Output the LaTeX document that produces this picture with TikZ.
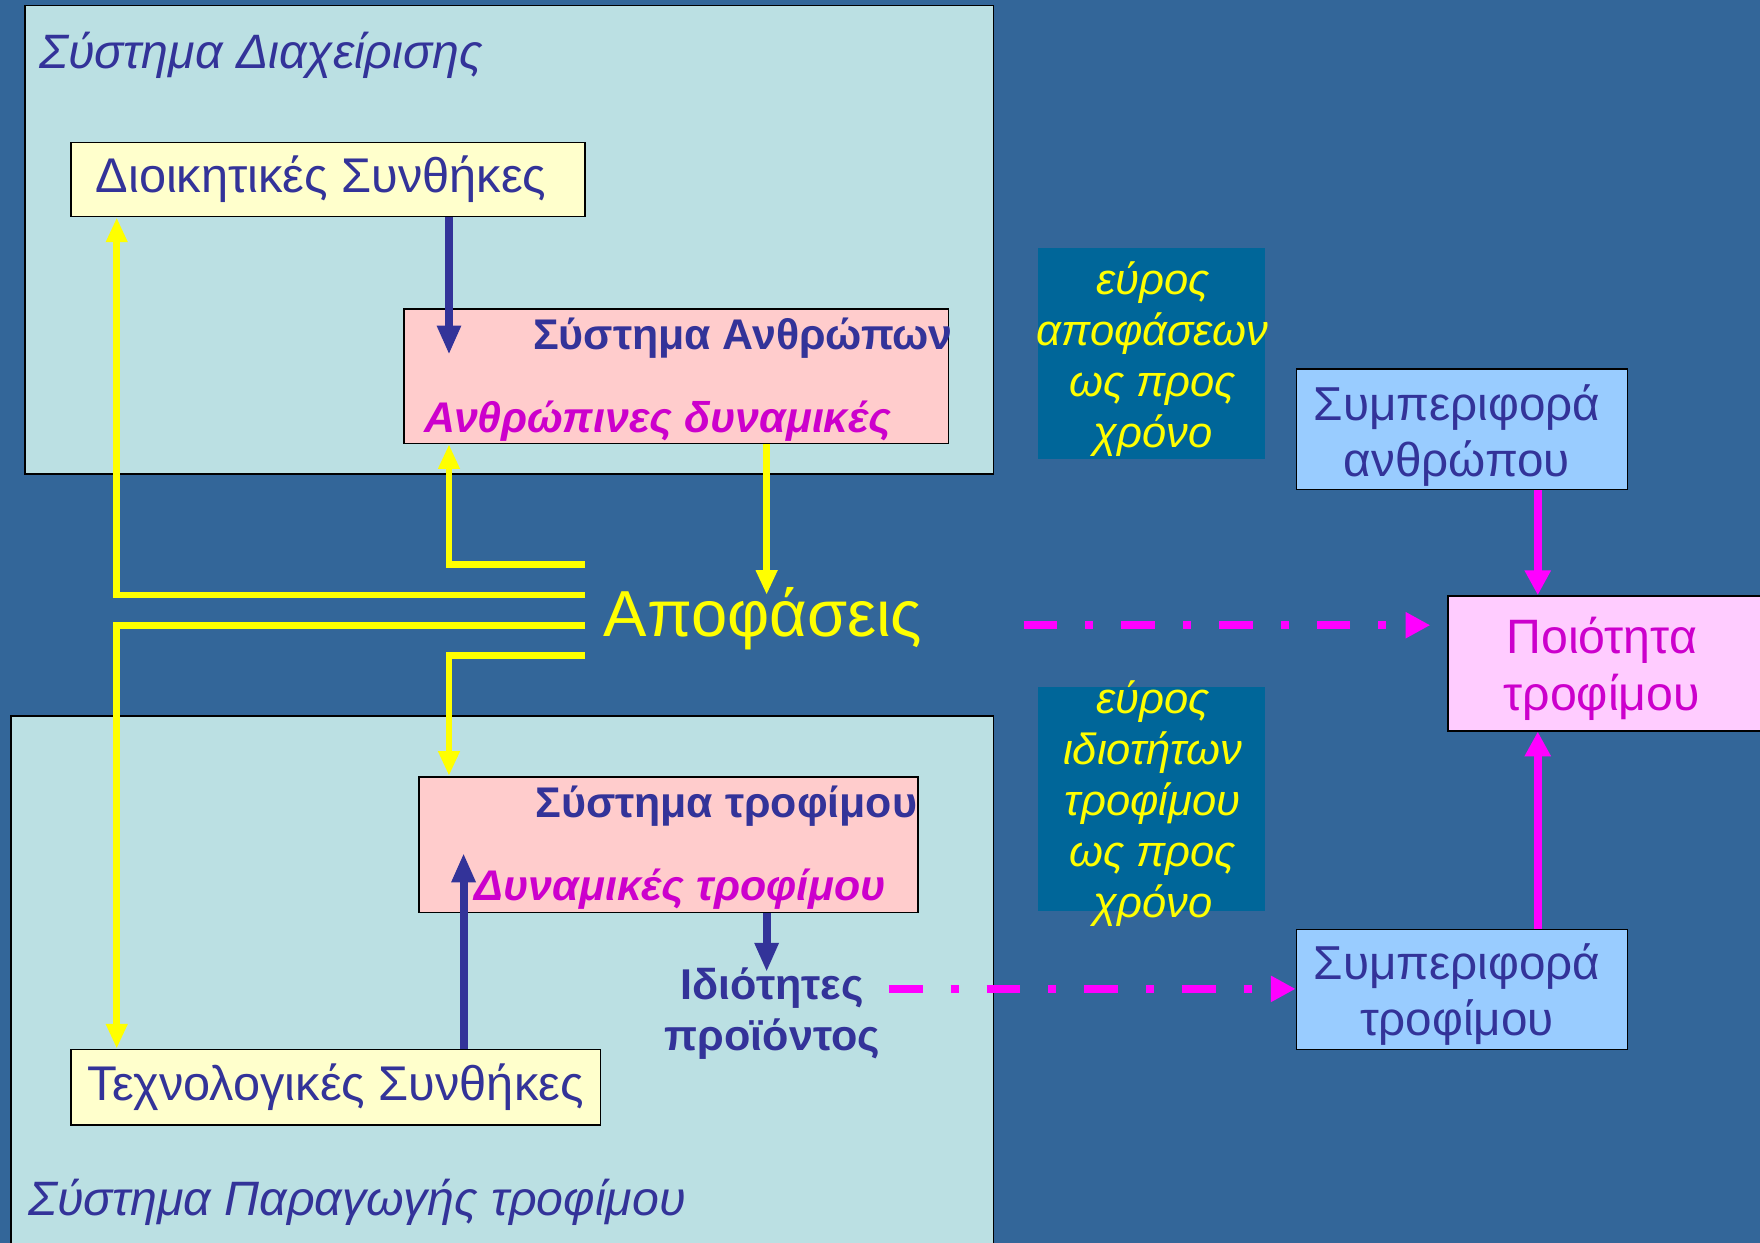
\documentclass[tikz,border=0pt]{standalone}
\usepackage{fontspec}
\setmainfont{Liberation Sans}
\usetikzlibrary{arrows.meta,fit,calc}
\definecolor{bgc}{RGB}{51,102,153}
\definecolor{contc}{RGB}{187,224,227}
\definecolor{dblue}{RGB}{51,51,153}
\definecolor{ylw}{RGB}{255,255,0}
\definecolor{lylw}{RGB}{255,255,204}
\definecolor{pinkc}{RGB}{255,204,204}
\definecolor{magt}{RGB}{204,0,204}
\definecolor{magl}{RGB}{255,0,255}
\definecolor{tealc}{RGB}{0,102,153}
\definecolor{lblue}{RGB}{153,204,255}
\definecolor{ppink}{RGB}{255,204,255}
\begin{document}
\begin{tikzpicture}[x=0.5pt,y=-0.5pt,
  box/.style={draw=black, line width=0.75pt, inner sep=0pt},
  txt/.style={inner sep=0pt, outer sep=0pt},
  yarr/.style={draw=ylw, line width=3pt, -{Triangle[width=9pt,length=11pt]}},
  barr/.style={draw=dblue, line width=3.5pt, -{Triangle[width=10pt,length=13pt]}},
  marr/.style={draw=magl, line width=3.5pt, -{Triangle[width=11pt,length=11pt]}},
  mdash/.style={draw=magl, line width=3.5pt, dash pattern=on 15pt off 12.5pt on 3.5pt off 12.5pt, -{Triangle[width=11pt,length=11pt]}}
]
\useasboundingbox (0,0) rectangle (1568,1107);
\fill[bgc] (0,0) rectangle (1568,1107);

% containers
\node[box, fill=contc, fit={(22,5)(885,422)}] (mgmt) {};
\node[box, fill=contc, fit={(10,638)(885,1120)}] (prod) {};
\node[txt, anchor=base west, text=dblue, font=\fontsize{21.5}{26}\selectfont\itshape] (mgmtT) at (35,61) {Σύστημα Διαχείρισης};
\node[txt, anchor=base west, text=dblue, font=\fontsize{21.5}{26}\selectfont\itshape] (prodT) at (25,1083) {Σύστημα Παραγωγής τροφίμου};

% boxes
\node[box, fill=lylw, fit={(63,127)(521,193)}] (dioik) {};
\node[txt, text=dblue, font=\fontsize{21.7}{25}\selectfont] (dioikT) at (286,160) {Διοικητικές Συνθήκες};

\node[box, fill=pinkc, fit={(360,275)(845,395)}] (anthr) {};
\node[txt, anchor=base west, text=dblue, font=\fontsize{19.1}{23}\selectfont\bfseries] (anthrT) at (475,311) {Σύστημα Ανθρώπων};
\node[txt, anchor=base west, text=magt, font=\fontsize{19.1}{23}\selectfont\bfseries\itshape] (anthrD) at (378,385) {Ανθρώπινες δυναμικές};

\node[box, fill=pinkc, fit={(373,692)(818,813)}] (trof) {};
\node[txt, anchor=base west, text=dblue, font=\fontsize{19.1}{23}\selectfont\bfseries] (trofT) at (477,728) {Σύστημα τροφίμου};
\node[txt, anchor=base west, text=magt, font=\fontsize{19.1}{23}\selectfont\bfseries\itshape] (trofD) at (423,802) {Δυναμικές τροφίμου};

\node[box, fill=lylw, fit={(63,935)(535,1002)}] (tech) {};
\node[txt, text=dblue, font=\fontsize{21.7}{25}\selectfont] (techT) at (299,969) {Τεχνολογικές Συνθήκες};

\node[txt, anchor=base west, text=ylw, font=\fontsize{29}{34}\selectfont] (apof) at (538,567) {Αποφάσεις};

\node[txt, align=center, text=dblue, font=\fontsize{19.2}{22.5}\selectfont\bfseries] (idiot) at (688,903) {Ιδιότητες\\προϊόντος};

% teal boxes
\node[fill=tealc, inner sep=0pt, fit={(925,221)(1127,409)}] (tl1) {};
\node[txt, align=center, text=ylw, font=\fontsize{19.4}{22.75}\selectfont\itshape] (tl1T) at (1027,320) {εύρος\\αποφάσεων\\ως προς\\χρόνο};
\node[fill=tealc, inner sep=0pt, fit={(925,612)(1127,812)}] (tl2) {};
\node[txt, align=center, text=ylw, font=\fontsize{19.4}{22.75}\selectfont\itshape] (tl2T) at (1027,716) {εύρος\\ιδιοτήτων\\τροφίμου\\ως προς\\χρόνο};

% right boxes
\node[box, fill=lblue, fit={(1155,329)(1450,436)}] (beh1) {};
\node[txt, align=center, text=dblue, font=\fontsize{21.2}{25}\selectfont] (beh1T) at (1298,388) {Συμπεριφορά\\ανθρώπου};
\node[box, fill=lblue, fit={(1155,828)(1450,935)}] (beh2) {};
\node[txt, align=center, text=dblue, font=\fontsize{21.2}{25}\selectfont] (beh2T) at (1298,886) {Συμπεριφορά\\τροφίμου};
\node[box, fill=ppink, fit={(1290,531)(1580,651)}] (qual) {};
\node[txt, align=center, text=magt, font=\fontsize{21.5}{25.5}\selectfont] (qualT) at (1427,596) {Ποιότητα\\τροφίμου};

% yellow connectors
\coordinate (a1) at (521,503);
\coordinate (a2) at (521,530);
\coordinate (a3) at (521,557);
\coordinate (a4) at (521,584);
\draw[yarr] (a2) -| (104,0 |- dioik.south);
\draw[yarr] (a1) -| (400,0 |- anthr.south);
\draw[yarr] (a3) -| (104,0 |- tech.north);
\draw[yarr] (a4) -| (400,0 |- trof.north);
\draw[yarr] (683,0 |- anthr.south) -- (683,0 |- a2);

% blue connectors
\coordinate (b1) at (400,316);
\coordinate (b2) at (413,760);
\coordinate (b3) at (683,866);
\draw[barr] (400,0 |- dioik.south) -- (b1);
\draw[barr] (413,0 |- tech.north) -- (b2);
\draw[barr] (683,0 |- trof.south) -- (b3);

% magenta connectors
\coordinate (d1) at (912,557);
\coordinate (d2) at (792,881);
\draw[mdash, shorten >=7.5pt] (d1) -- (qual.west |- a3);
\draw[mdash] (d2) -- (beh2.west |- d2);
\draw[marr] (beh1.south -| 1370,0) -- (qual.north -| 1370,0);
\draw[marr] (beh2.north -| 1370,0) -- (qual.south -| 1370,0);
\end{tikzpicture}
\end{document}
